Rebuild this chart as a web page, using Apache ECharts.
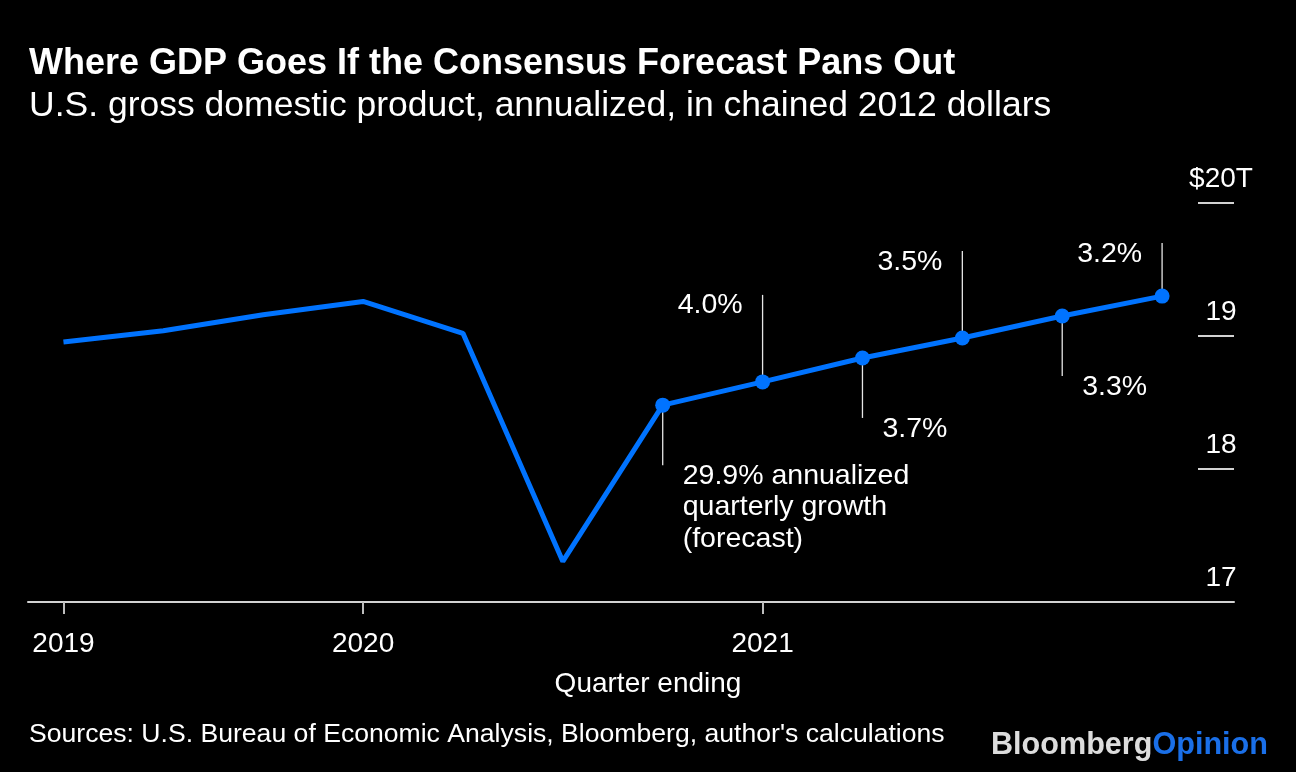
<!DOCTYPE html>
<html>
<head>
<meta charset="utf-8">
<script src="https://cdn.jsdelivr.net/npm/echarts@6/dist/echarts.min.js"></script>
<style>
html,body{margin:0;padding:0;background:#000;}
#chart{width:1296px;height:772px;}
</style>
</head>
<body>
<div id="chart"></div>
<script>
// ---- Data ----
const quarters = ['2019 Q1','2019 Q2','2019 Q3','2019 Q4','2020 Q1','2020 Q2','2020 Q3','2020 Q4','2021 Q1','2021 Q2','2021 Q3','2021 Q4'];
const gdpTrillions = [18.955, 19.04, 19.16, 19.26, 19.02, 17.305, 18.48, 18.655, 18.835, 18.985, 19.15, 19.30];
const forecastStart = 6; // first forecast quarter index (markers from here on)
const xTickIndex = [0, 3, 7];
const xTickLabels = ['2019', '2020', '2021'];
const yTicks = [17, 18, 19, 20];
const annoIndex = [6, 7, 8, 9, 10, 11];
const annoLabels = ['29.9% annualized\nquarterly growth\n(forecast)', '4.0%', '3.7%', '3.5%', '3.3%', '3.2%'];
const annoSide = ['below', 'above', 'below', 'above', 'below', 'above'];

// ---- Styling / layout ----
const FONT = '"Liberation Sans", Arial, Helvetica, sans-serif';
const BLUE = '#0073ff';
const annoLen = {6: 60, 7: 87, 8: 60, 9: 87, 10: 60, 11: 53};

const chart = echarts.init(document.getElementById('chart'));

const lineData = gdpTrillions.map((v, i) => {
  const item = { value: [i, v] };
  if (i >= forecastStart) {
    item.symbol = 'circle';
    item.symbolSize = 15;
  } else {
    item.symbol = 'none';
  }
  return item;
});

const annoData = annoIndex.map((idx, k) => [idx, gdpTrillions[idx], k]);

const option = {
  backgroundColor: '#000',
  animation: false,
  textStyle: { fontFamily: FONT },
  title: [
    {
      text: 'Where GDP Goes If the Consensus Forecast Pans Out',
      left: 29, top: 46, padding: 0,
      textStyle: { color: '#fff', fontSize: 36, fontWeight: 'bold', fontFamily: FONT }
    },
    {
      text: 'U.S. gross domestic product, annualized, in chained 2012 dollars',
      left: 29, top: 88, padding: 0,
      textStyle: { color: '#fff', fontSize: 35.5, fontWeight: 'normal', fontFamily: FONT }
    },
    {
      text: "Sources: U.S. Bureau of Economic Analysis, Bloomberg, author's calculations",
      left: 29, top: 721, padding: 0,
      textStyle: { color: '#fff', fontSize: 26.6, fontWeight: 'normal', fontFamily: FONT }
    },
    {
      text: '{a|Bloomberg}{b|Opinion}',
      right: 28, top: 730, padding: 0,
      textStyle: {
        rich: {
          a: { color: '#dcdcdc', fontSize: 30.6, fontWeight: 'bold', fontFamily: FONT },
          b: { color: '#1a6fe8', fontSize: 30.6, fontWeight: 'bold', fontFamily: FONT }
        }
      }
    }
  ],
  grid: { left: 28, right: 62, top: 203, bottom: 170, containLabel: false },
  xAxis: {
    type: 'value',
    min: -0.355,
    max: 11.72,
    name: 'Quarter ending',
    nameLocation: 'middle',
    nameGap: 68,
    nameTextStyle: { color: '#fff', fontSize: 28, fontFamily: FONT, padding: [0, 0, 0, 34] },
    axisLine: { show: true, onZero: false, lineStyle: { color: '#d2d2d2', width: 2 } },
    axisTick: { show: true, length: 12, customValues: xTickIndex, lineStyle: { color: '#bdbdbd', width: 2 } },
    axisLabel: {
      show: true,
      customValues: xTickIndex,
      formatter: v => xTickLabels[xTickIndex.indexOf(Math.round(v))] || '',
      color: '#fff', fontSize: 28, margin: 28, fontFamily: FONT
    },
    splitLine: { show: false }
  },
  yAxis: {
    type: 'value',
    position: 'right',
    min: 17, max: 20, interval: 1,
    axisLine: { show: false, onZero: false },
    axisTick: { show: true, inside: true, length: 36, lineStyle: { color: '#d2d2d2', width: 2 } },
    axisLabel: {
      inside: true, margin: 13, align: 'center', verticalAlign: 'bottom',
      lineHeight: 28, padding: [0, 0, 10, 0],
      color: '#fff', fontSize: 28, fontFamily: FONT,
      formatter: v => (v === yTicks[yTicks.length - 1] ? '$' + v + 'T' : String(v))
    },
    splitLine: { show: false }
  },
  series: [
    {
      type: 'custom',
      z: 1,
      clip: false,
      data: annoData,
      renderItem: (params, api) => {
        const idx = api.value(0);
        const k = api.value(2);
        const p = api.coord([idx, api.value(1)]);
        const len = annoLen[idx];
        const above = annoSide[k] === 'above';
        const yEnd = above ? p[1] - len : p[1] + len;
        return {
          type: 'group',
          children: [
            {
              type: 'line',
              shape: { x1: p[0], y1: p[1], x2: p[0], y2: yEnd },
              style: { stroke: '#e6e6e6', lineWidth: 1.3 }
            },
            {
              type: 'text',
              x: above ? p[0] - 20 : p[0] + 20,
              y: yEnd - 5,
              style: {
                text: annoLabels[k],
                fill: '#fff',
                font: '28.5px ' + FONT,
                lineHeight: 31.5,
                align: above ? 'right' : 'left',
                verticalAlign: 'top'
              }
            }
          ]
        };
      }
    },
    {
      type: 'line',
      z: 3,
      data: lineData,
      lineStyle: { color: BLUE, width: 5 },
      itemStyle: { color: BLUE },
      symbol: 'none',
      showSymbol: true,
      emphasis: { disabled: true }
    }
  ]
};

chart.setOption(option);
</script>
</body>
</html>
